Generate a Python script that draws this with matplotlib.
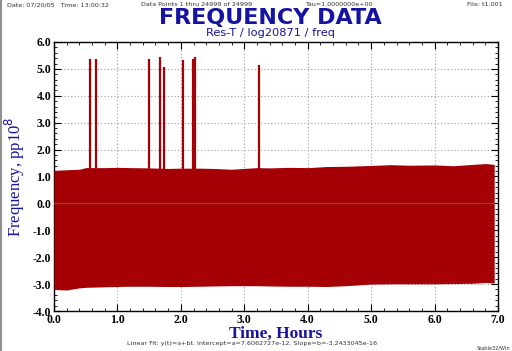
import matplotlib
matplotlib.use("Agg")
import matplotlib.pyplot as plt
from matplotlib.ticker import MultipleLocator
from matplotlib.lines import Line2D

# Envelope of the dense noise band
env_t = [0.0, 0.2, 0.4, 0.5, 0.8, 1.0, 1.2, 1.5, 1.8, 2.0, 2.3, 2.5, 2.8, 3.0,
         3.2, 3.4, 3.7, 4.0, 4.3, 4.6, 5.0, 5.3, 5.6, 6.0, 6.3, 6.6, 6.8, 6.94]
env_upper = [1.23, 1.25, 1.27, 1.33, 1.33, 1.34, 1.33, 1.32, 1.30, 1.31, 1.31, 1.30, 1.27, 1.30,
             1.33, 1.32, 1.34, 1.33, 1.37, 1.38, 1.41, 1.44, 1.42, 1.43, 1.40, 1.45, 1.48, 1.45]
env_lower = [-3.20, -3.22, -3.14, -3.12, -3.10, -3.09, -3.08, -3.08, -3.09, -3.09, -3.08, -3.07, -3.06, -3.06,
             -3.06, -3.07, -3.08, -3.08, -3.09, -3.06, -3.00, -2.99, -2.99, -2.99, -2.98, -2.97, -2.94, -2.96]

# Outlier spikes
spike_t = [0.56, 0.67, 1.50, 1.67, 1.73, 2.04, 2.19, 2.21, 2.23, 3.23]
spike_v = [5.38, 5.35, 5.38, 5.43, 5.06, 5.34, 5.38, 5.15, 5.46, 5.13]

xticks = [0.0, 1.0, 2.0, 3.0, 4.0, 5.0, 6.0, 7.0]
yticks = [-4.0, -3.0, -2.0, -1.0, 0.0, 1.0, 2.0, 3.0, 4.0, 5.0, 6.0]

red = '#A50005'
blue = '#1414A0'

fig = plt.figure(figsize=(5.12, 3.51), dpi=100)
ax = fig.add_axes([54/512, 1-311/351, 444/512, 269/351])

ax.fill_between(env_t, env_lower, env_upper, color=red, linewidth=0, zorder=3)
ax.vlines(spike_t, 0, spike_v, color=red, linewidth=1.6, zorder=3)
ax.axhline(0.0, xmin=0, xmax=6.94/7, color='#6E5A08', linewidth=0.9, zorder=4)

ax.set_xlim(0, 7)
ax.set_ylim(-4, 6)
ax.set_xticks(xticks)
ax.set_yticks(yticks)
ax.set_xticklabels([f"{v:.1f}" for v in xticks])
ax.set_yticklabels([f"{v:.1f}" for v in yticks])
ax.xaxis.set_minor_locator(MultipleLocator(0.2))
ax.yaxis.set_minor_locator(MultipleLocator(0.2))
ax.tick_params(which='both', direction='in', top=True, right=True, color='black')
ax.tick_params(which='major', length=5, width=0.8)
ax.tick_params(which='minor', length=2.5, width=0.6)
ax.tick_params(axis='both', which='major', labelsize=8.5, pad=2)
for lab in ax.get_xticklabels() + ax.get_yticklabels():
    lab.set_family('Liberation Serif')
    lab.set_fontweight('bold')
ax.grid(True, which='major', color='#A0A0A0', linestyle=(0, (1, 2)), linewidth=0.8, zorder=0)
for s in ax.spines.values():
    s.set_linewidth(1.0)

ax.set_xlabel('Time, Hours', family='Liberation Serif', fontweight='bold', fontsize=12.5, color=blue, labelpad=0)
ax.set_ylabel(r'Frequency, pp10$^8$', family='Liberation Serif', fontsize=12, color=blue, labelpad=4)

fig.text(270/512, 1-18/351, 'FREQUENCY DATA', ha='center', va='center', fontsize=16, fontweight='bold', color=blue, family='DejaVu Sans')
fig.text(270/512, 1-33/351, 'Res-T / log20871 / freq', ha='center', va='center', fontsize=8.2, color=blue, family='DejaVu Sans')

hdr = dict(fontsize=4.6, color='#333333', va='center', family='DejaVu Sans')
fig.text(7/512, 1-5/351, 'Date: 07/20/05   Time: 13:00:32', ha='left', **hdr)
fig.text(141/512, 1-5/351, 'Data Points 1 thru 24999 of 24999', ha='left', **hdr)
fig.text(305/512, 1-5/351, 'Tau=1.0000000e+00', ha='left', **hdr)
fig.text(503/512, 1-5/351, 'File: t1.001', ha='right', **hdr)
fig.text(252/512, 1-343/351, 'Linear Fit: y(t)=a+bt. Intercept=a=7.6062727e-12. Slope=b=-3.2433045e-16',
         ha='center', **hdr)
fig.text(510/512, 1-348/351, 'Stable32/Win', ha='right', fontsize=3.6, color='#333333', va='center')

fig.add_artist(Line2D([0.001, 0.001], [0, 1], transform=fig.transFigure, color='#909090', linewidth=1.5))

fig.savefig('out.png', dpi=100)
